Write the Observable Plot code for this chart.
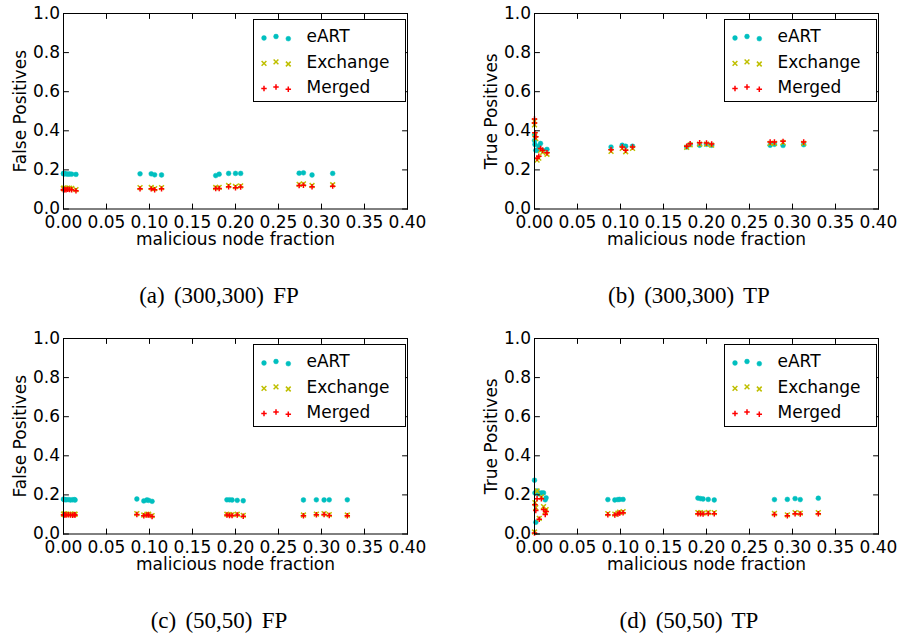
<!DOCTYPE html>
<html><head><meta charset="utf-8">
<script src="https://cdn.jsdelivr.net/npm/d3@7"></script>
<script src="https://cdn.jsdelivr.net/npm/@observablehq/plot@0.6"></script>
<style>
body{margin:0;background:#fff}
#root{position:relative;width:901px;height:639px;overflow:hidden;background:#fff}
.panel{position:absolute}
#overlay{position:absolute;left:0;top:0;pointer-events:none}
</style></head><body><div id="root"></div>
<script>
// ---- ticks ----
const xTicks = [0, 0.05, 0.10, 0.15, 0.20, 0.25, 0.30, 0.35, 0.40];
const yTicks = [0, 0.2, 0.4, 0.6, 0.8, 1.0];
const seriesNames = ["eART", "Exchange", "Merged"];
const captions = ["(a) (300,300) FP", "(b) (300,300) TP", "(c) (50,50) FP", "(d) (50,50) TP"];
const yLabels = ["False Positives", "True Positives", "False Positives", "True Positives"];

// ---- (300,300) experiments ----
const x300 = [0, 0, 0.0005, 0.0015, 0.003, 0.005, 0.007, 0.0095, 0.0145,
  0.089, 0.102, 0.106, 0.114, 0.177, 0.181, 0.192, 0.200, 0.206, 0.274, 0.279, 0.289, 0.313];
const fp300_eART = [0.182, 0.180, 0.181, 0.180, 0.180, 0.178, 0.179, 0.178, 0.177,
  0.180, 0.180, 0.175, 0.174, 0.171, 0.178, 0.182, 0.182, 0.182, 0.183, 0.185, 0.174, 0.182];
const fp300_exchange = [0.104, 0.106, 0.105, 0.106, 0.105, 0.107, 0.106, 0.105, 0.099,
  0.109, 0.110, 0.104, 0.109, 0.110, 0.111, 0.120, 0.115, 0.118, 0.126, 0.128, 0.120, 0.124];
const fp300_merged = [0.098, 0.100, 0.099, 0.100, 0.099, 0.101, 0.100, 0.099, 0.093,
  0.103, 0.103, 0.098, 0.103, 0.105, 0.105, 0.114, 0.109, 0.112, 0.120, 0.122, 0.114, 0.117];
const tp300_eART = [0.38, 0.35, 0.33, 0.30, 0.30, 0.32, 0.335, 0.30, 0.305,
  0.317, 0.326, 0.321, 0.321, 0.317, 0.329, 0.326, 0.331, 0.326, 0.326, 0.331, 0.325, 0.329];
const tp300_exchange = [0.45, 0.43, 0.38, 0.36, 0.25, 0.26, 0.30, 0.29, 0.28,
  0.295, 0.310, 0.293, 0.310, 0.315, 0.328, 0.332, 0.332, 0.327, 0.336, 0.336, 0.340, 0.336];
const tp300_merged = [0.46, 0.44, 0.39, 0.37, 0.26, 0.27, 0.31, 0.30, 0.288,
  0.303, 0.317, 0.300, 0.317, 0.321, 0.334, 0.339, 0.338, 0.333, 0.343, 0.343, 0.346, 0.343];

// ---- (50,50) experiments ----
const x50 = [0, 0.0005, 0.0015, 0.003, 0.0055, 0.008, 0.0105, 0.0125, 0.0135,
  0.0853, 0.0934, 0.097, 0.099, 0.103, 0.190, 0.193, 0.196, 0.202, 0.209, 0.279, 0.294, 0.303, 0.309, 0.330];
const fp50_eART = [0.178, 0.177, 0.176, 0.175, 0.176, 0.174, 0.175, 0.176, 0.174,
  0.179, 0.169, 0.174, 0.172, 0.167, 0.175, 0.175, 0.174, 0.172, 0.170, 0.174, 0.175, 0.174, 0.175, 0.175];
const fp50_exchange = [0.102, 0.101, 0.103, 0.101, 0.102, 0.101, 0.100, 0.102, 0.101,
  0.104, 0.097, 0.101, 0.101, 0.094, 0.101, 0.099, 0.099, 0.101, 0.095, 0.097, 0.102, 0.104, 0.099, 0.097];
const fp50_merged = [0.098, 0.097, 0.099, 0.097, 0.098, 0.097, 0.096, 0.098, 0.097,
  0.100, 0.093, 0.097, 0.097, 0.090, 0.097, 0.095, 0.095, 0.097, 0.091, 0.093, 0.098, 0.100, 0.095, 0.093];
const tp50_eART = [0.275, 0.21, 0.06, 0.22, 0.205, 0.21, 0.21, 0.175, 0.185,
  0.176, 0.174, 0.176, 0.177, 0.177, 0.184, 0.181, 0.179, 0.177, 0.174, 0.176, 0.177, 0.181, 0.176, 0.183];
const tp50_exchange = [0.01, 0.16, 0.135, 0.22, 0.08, 0.19, 0.14, 0.115, 0.125,
  0.104, 0.102, 0.107, 0.112, 0.114, 0.109, 0.109, 0.107, 0.110, 0.109, 0.105, 0.098, 0.109, 0.107, 0.109];
const tp50_merged = [0.005, 0.15, 0.12, 0.18, 0.075, 0.18, 0.125, 0.10, 0.115,
  0.099, 0.097, 0.102, 0.107, 0.109, 0.104, 0.104, 0.102, 0.105, 0.104, 0.100, 0.093, 0.104, 0.102, 0.104];

const colors = {eART: "#00bfbf", Exchange: "#bfbf00", Merged: "#ff0000"};

const panels = [
  {xs: x300, s: [fp300_eART, fp300_exchange, fp300_merged], left: 0, top: 0, width: 450, mL: 63, mR: 43},
  {xs: x300, s: [tp300_eART, tp300_exchange, tp300_merged], left: 450, top: 0, width: 451, mL: 84, mR: 23},
  {xs: x50, s: [fp50_eART, fp50_exchange, fp50_merged], left: 0, top: 325, width: 450, mL: 63, mR: 43},
  {xs: x50, s: [tp50_eART, tp50_exchange, tp50_merged], left: 450, top: 325, width: 451, mL: 84, mR: 23}
];
const H = 250, mT = 13, mB = 41.5;

const root = document.getElementById("root");
const tickShape = {draw(ctx, l) { ctx.moveTo(0, 0); ctx.lineTo(0, -l); }};
const tickOpts = {length: 5, anchor: "start", shape: tickShape, stroke: "black", strokeWidth: 1};

panels.forEach((p, k) => {
  const rows = (ys) => p.xs.map((x, i) => ({x, y: ys[i]}));
  const chart = Plot.plot({
    width: p.width, height: H,
    marginLeft: p.mL, marginRight: p.mR, marginTop: mT, marginBottom: mB,
    style: {fontFamily: "'DejaVu Sans', sans-serif", fontSize: "17px", color: "black", background: "transparent", overflow: "visible"},
    x: {domain: [0, 0.4]},
    y: {domain: [0, 1]},
    marks: [
      Plot.dot(rows(p.s[0]), {x: "x", y: "y", r: 2.4, fill: colors.eART, stroke: colors.eART, strokeWidth: 0.5}),
      Plot.dot(rows(p.s[1]), {x: "x", y: "y", symbol: "times", r: 2.3, stroke: colors.Exchange, strokeWidth: 1.5}),
      Plot.dot(rows(p.s[2]), {x: "x", y: "y", symbol: "plus", r: 1.9, stroke: colors.Merged, strokeWidth: 1.5}),
      Plot.frame({stroke: "black", strokeWidth: 1}),
      Plot.vector(xTicks, {x: d => d, frameAnchor: "bottom", rotate: 0, ...tickOpts}),
      Plot.vector(xTicks, {x: d => d, frameAnchor: "top", rotate: 180, ...tickOpts}),
      Plot.vector(yTicks, {y: d => d, frameAnchor: "left", rotate: 90, ...tickOpts}),
      Plot.vector(yTicks, {y: d => d, frameAnchor: "right", rotate: -90, ...tickOpts}),
      Plot.axisX({anchor: "bottom", ticks: xTicks, tickSize: 0, tickPadding: 6.5, tickFormat: d3.format(".2f"),
        label: "malicious node fraction", labelAnchor: "center", labelArrow: "none", labelOffset: 36}),
      Plot.axisY({anchor: "left", ticks: yTicks, tickSize: 0, tickPadding: 3.5, tickFormat: d3.format(".1f"),
        label: yLabels[k], labelAnchor: "center", labelArrow: "none", labelOffset: 50})
    ]
  });
  chart.classList.add("panel");
  chart.style.left = p.left + "px";
  chart.style.top = p.top + "px";
  root.appendChild(chart);
});

// ---- overlay: legends and captions ----
const ov = d3.select(root).append("svg").attr("id", "overlay").attr("width", 901).attr("height", 639);
panels.forEach((p, k) => {
  const frameRight = p.left + p.width - p.mR;
  const frameTop = p.top + mT;
  const bw = 152, bh = 82;
  const bx = frameRight - 2 - bw, by = frameTop + 6;
  const g = ov.append("g").attr("transform", `translate(${bx},${by})`);
  g.append("rect").attr("x", 0.5).attr("y", 0.5).attr("width", bw).attr("height", bh)
    .attr("fill", "white").attr("stroke", "black").attr("stroke-width", 1);
  const yoff = [1.5, 0, 2.2];
  const mx = [11, 23, 35.3];
  seriesNames.forEach((name, j) => {
    const cy = 17.5 + j * 25.3;
    mx.forEach((x, m) => {
      const y = cy + yoff[m];
      if (j === 0) {
        g.append("circle").attr("cx", x).attr("cy", y).attr("r", 2.4).attr("fill", colors.eART).attr("stroke", colors.eART).attr("stroke-width", 0.5);
      } else {
        const sym = j === 1 ? d3.symbolTimes : d3.symbolPlus;
        const r = j === 1 ? 2.3 : 1.9;
        g.append("path").attr("transform", `translate(${x},${y})`)
          .attr("d", d3.symbol(sym, Math.PI * r * r)())
          .attr("fill", "none").attr("stroke", colors[name]).attr("stroke-width", 1.5);
      }
    });
    g.append("text").attr("x", 53.5).attr("y", cy).attr("dy", "0.35em")
      .attr("font-family", "'DejaVu Sans', sans-serif").attr("font-size", 17).text(name);
  });
  const cx = p.left + (k % 2 === 0 ? 219 : 239);
  ov.append("text").attr("x", cx).attr("y", p.top + 303).attr("text-anchor", "middle")
    .attr("font-family", "'Liberation Serif', 'Times New Roman', serif").attr("font-size", 23)
    .attr("word-spacing", "3.5px").text(captions[k]);
});
</script>
</body></html>
